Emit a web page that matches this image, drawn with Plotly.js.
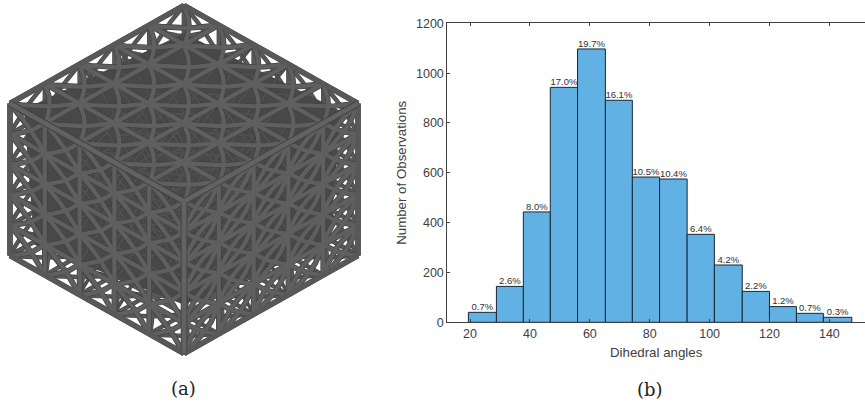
<!DOCTYPE html>
<html><head><meta charset="utf-8">
<script src="https://cdn.plot.ly/plotly-3.0.1.min.js"></script>
<style>html,body{margin:0;padding:0;background:#fff}#c{width:865px;height:405px}</style>
</head><body><div id="c"></div>
<script>
// Histogram data
const binEdges = [19.44,28.8,37.8,46.8,55.9,65.2,74.2,83.3,92.5,101.6,110.9,120,129,138,147.5];
const counts = [40,144,443,943,1097,891,583,575,353,230,124,63,36,20];
const percents = ["0.7%","2.6%","8.0%","17.0%","19.7%","16.1%","10.5%","10.4%","6.4%","4.2%","2.2%","1.2%","0.7%","0.3%"];
const xTicks = [20,40,60,80,100,120,140];
const yTicks = [0,200,400,600,800,1000,1200];
const xTitle = "Dihedral angles";
const yTitle = "Number of Observations";
const panelLabels = ["(a)","(b)"];

// Lattice illustration: cells per edge and the cube's projected frame
const cellsPerEdge = 5;
const cubeOrigin = [184,5.5];
const cubeA = [174,98];
const cubeB = [-174,98];
const cubeC = [0,152];
const N = cellsPerEdge;
// silhouette corners in lattice coordinates and how far the dense core reaches toward each
const silhouette = [[0,0,0],[N,0,0],[N,0,N],[N,N,N],[0,N,N],[0,N,0]];
const coreReach = [0.84,0.90,0.84,0.72,0.86,0.92];

function project(p){
  const s = 1/N;
  return [cubeOrigin[0]+s*(p[0]*cubeA[0]+p[1]*cubeB[0]+p[2]*cubeC[0]),
          cubeOrigin[1]+s*(p[0]*cubeA[1]+p[1]*cubeB[1]+p[2]*cubeC[1])];
}
function arc(p,q,axis,bow){
  const pts=[];
  for(let i=0;i<=6;i++){
    const t=i/6,b=4*t*(1-t)*bow;
    pts.push([0,1,2].map(k=>p[k]+(q[k]-p[k])*t+axis[k]*b));
  }
  return pts;
}
function newGroup(){return {x:[],y:[]};}
function put(g,pts){pts.forEach(p=>{const q=project(p);g.x.push(q[0]);g.y.push(q[1]);});g.x.push(null);g.y.push(null);}
function planePoint(axis,level,u,v){
  const p=[0,0,0],o=[0,1,2].filter(k=>k!==axis);
  p[axis]=level;p[o[0]]=u;p[o[1]]=v;return p;
}
function dir(axis,du,dv){
  const p=[0,0,0],o=[0,1,2].filter(k=>k!==axis);
  p[o[0]]=du;p[o[1]]=dv;return p;
}
function plane(g,axis,level,lensDiag,bowA,bowB,withEdges){
  for(let u=0;u<N;u++)for(let v=0;v<N;v++){
    const p00=planePoint(axis,level,u,v),p11=planePoint(axis,level,u+1,v+1),
          p10=planePoint(axis,level,u+1,v),p01=planePoint(axis,level,u,v+1);
    const n=dir(axis,1,-1),m=dir(axis,1,1);
    if(lensDiag===0){put(g,arc(p00,p11,n,bowA));put(g,arc(p00,p11,n,-bowA));put(g,arc(p10,p01,m,bowB));}
    else if(lensDiag===1){put(g,arc(p10,p01,m,bowA));put(g,arc(p10,p01,m,-bowA));put(g,arc(p00,p11,n,bowB));}
    else {put(g,arc(p00,p11,n,bowB));put(g,arc(p10,p01,m,bowB));}
  }
  if(withEdges){
    for(let u=0;u<=N;u++)for(let v=0;v<N;v++){
      put(g,[planePoint(axis,level,u,v),planePoint(axis,level,u,v+1)]);
      put(g,[planePoint(axis,level,v,u),planePoint(axis,level,v+1,u)]);
    }
  }
}
const back=newGroup(),mid=newGroup(),front=newGroup(),outer=newGroup(),nearEdges=newGroup();
plane(back,0,0,-1,0,0.05,true);
plane(back,1,0,-1,0,0.05,true);
plane(back,2,N,-1,0,0.05,true);
[2,3].forEach(l=>{plane(mid,0,l,-1,0,0.06,false);plane(mid,1,l,-1,0,0.06,false);});
plane(front,2,0,-1,0,0.07,true);   // top
plane(front,1,N,-1,0,0.05,true);   // left
plane(front,0,N,0,0.13,0.04,true); // right, lens on the steep diagonal
[[[0,0,0],[N,0,0]],[[0,0,0],[0,N,0]],[[N,0,0],[N,0,N]],[[0,N,0],[0,N,N]],[[N,0,N],[N,N,N]],[[0,N,N],[N,N,N]]].forEach(e=>put(outer,e));
[[[N,0,0],[N,N,0]],[[0,N,0],[N,N,0]],[[N,N,0],[N,N,N]]].forEach(e=>put(nearEdges,e));

// dense core behind the near faces
const centre=project([N/2,N/2,N/2]);
const coreX=[],coreY=[];
silhouette.forEach((v,i)=>{const q=project(v);coreX.push(centre[0]+coreReach[i]*(q[0]-centre[0]));coreY.push(centre[1]+coreReach[i]*(q[1]-centre[1]));});

const lat={type:'scatter',mode:'lines',xaxis:'x2',yaxis:'y2',hoverinfo:'skip',showlegend:false};
const traces=[
  {...lat,x:back.x,y:back.y,line:{color:'#444444',width:4.4}},
  {...lat,x:back.x,y:back.y,line:{color:'#585858',width:3.2}},
  {...lat,x:coreX,y:coreY,mode:'lines',fill:'toself',fillcolor:'#484848',line:{color:'#484848',width:0}},
  {...lat,x:mid.x,y:mid.y,line:{color:'#414141',width:3.4}},
  {...lat,x:mid.x,y:mid.y,line:{color:'#505050',width:2.2}},
  {...lat,x:front.x,y:front.y,line:{color:'#424242',width:5.6}},
  {...lat,x:front.x,y:front.y,line:{color:'#5f5f5f',width:4.2}},
  {...lat,x:outer.x,y:outer.y,line:{color:'#585858',width:5}},
  {...lat,x:nearEdges.x,y:nearEdges.y,line:{color:'#434343',width:6.6}},
  {...lat,x:nearEdges.x,y:nearEdges.y,line:{color:'#626262',width:4.8}}
];
// histogram bars
const centers=counts.map((_,i)=>(binEdges[i]+binEdges[i+1])/2);
const widths=counts.map((_,i)=>binEdges[i+1]-binEdges[i]);
traces.push({type:'bar',x:centers,y:counts,width:widths,
  marker:{color:'#62b1e4',line:{color:'#1b2733',width:1}},hoverinfo:'skip',showlegend:false});
traces.push({type:'scatter',mode:'text',x:centers,y:counts,text:percents,textposition:'top center',cliponaxis:false,
  textfont:{family:'Liberation Sans, Arial, sans-serif',size:9.5,color:'#303030'},hoverinfo:'skip',showlegend:false});

const axisFont={family:'Liberation Sans, Arial, sans-serif',size:12.5,color:'#404040'};
const layout={
  width:865,height:405,margin:{l:0,r:0,t:0,b:0},paper_bgcolor:'#fff',plot_bgcolor:'rgba(0,0,0,0)',
  showlegend:false,
  xaxis:{domain:[447.3/865,1],range:[12.4,151.9],tickvals:xTicks,ticks:'inside',ticklen:3,tickcolor:'#404040',
    showline:true,linecolor:'#404040',linewidth:1,mirror:'ticks',showgrid:false,zeroline:false,
    tickfont:axisFont,title:{text:xTitle,font:{...axisFont,size:13.3},standoff:7},anchor:'y'},
  yaxis:{domain:[(405-322.3)/405,(405-23.3)/405],range:[0,1200],tickvals:yTicks,ticks:'inside',ticklen:3,tickcolor:'#404040',
    showline:true,linecolor:'#404040',linewidth:1,showgrid:false,zeroline:false,
    tickfont:axisFont,title:{text:yTitle,font:{...axisFont,size:13.3},standoff:6},anchor:'x'},
  xaxis2:{domain:[0,380/865],range:[0,380],visible:false,anchor:'y2',fixedrange:true},
  yaxis2:{domain:[0,1],range:[405,0],visible:false,anchor:'x2',fixedrange:true},
  annotations:[
    {text:panelLabels[0],xref:'paper',yref:'paper',x:183/865,y:(405-388)/405,showarrow:false,xanchor:'center',yanchor:'middle',
     font:{family:'DejaVu Serif, serif',size:18,color:'#222'}},
    {text:panelLabels[1],xref:'paper',yref:'paper',x:650/865,y:(405-389)/405,showarrow:false,xanchor:'center',yanchor:'middle',
     font:{family:'DejaVu Serif, serif',size:18,color:'#222'}}
  ]
};
Plotly.newPlot('c',traces,layout,{displayModeBar:false,staticPlot:true});
</script></body></html>
